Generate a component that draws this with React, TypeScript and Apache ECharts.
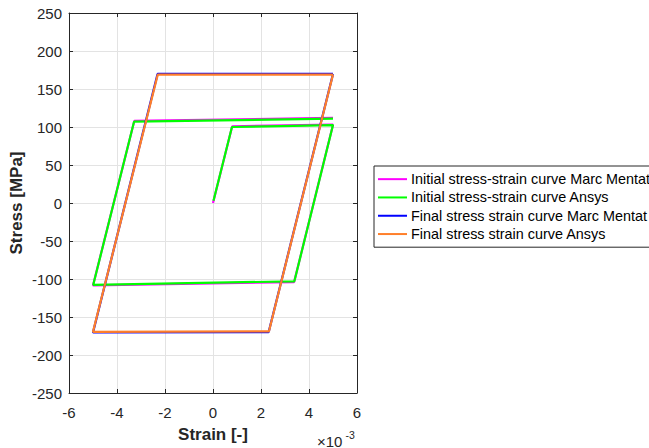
import React, { useEffect, useRef } from "react";
import * as echarts from "echarts";

// strain values are in units of 1e-3 (axis shows "×10^-3")
const initialMarcStrain = [0, 0.8, 5.0, 3.38, -5.0, -3.28, 5.0];
const initialMarcStress = [0, 101, 103, -104, -108.5, 108, 112];
const initialAnsysStrain = [0.02, 0.79, 5.0, 3.39, -4.99, -3.29, 5.0];
const initialAnsysStress = [3, 100, 102.5, -103, -107.7, 107, 111];
const finalMarcStrain = [5.0, 2.32, -5.0, -2.31, 5.0];
const finalMarcStress = [169.8, -169.8, -170.3, 169.8, 169.8];
const finalAnsysStrain = [5.0, 2.33, -5.0, -2.3, 5.0];
const finalAnsysStress = [169, -169, -169.5, 169, 169];

const seriesNames = [
  "Initial stress-strain curve Marc Mentat",
  "Initial stress-strain curve Ansys",
  "Final stress strain curve Marc Mentat",
  "Final stress strain curve Ansys",
];
const seriesColors = ["#ff00ff", "#00ff00", "#0000ff", "#ff7f2a"];

const xTicks = { min: -6, max: 6, interval: 2 };
const yTicks = { min: -250, max: 250, interval: 50 };

const FONT = "'Liberation Sans', Arial, Helvetica, sans-serif";
const AXIS_COLOR = "#262626";

function zip(xs: number[], ys: number[]) {
  return xs.map((x, i) => [x, ys[i]]);
}

export default function App() {
  const ref = useRef<HTMLDivElement>(null);
  useEffect(() => {
    if (!ref.current) return;
    const chart = echarts.init(ref.current, undefined, { renderer: "svg" });
    const data = [
      zip(initialMarcStrain, initialMarcStress),
      zip(initialAnsysStrain, initialAnsysStress),
      zip(finalMarcStrain, finalMarcStress),
      zip(finalAnsysStrain, finalAnsysStress),
    ];
    const boxAxisCommon = {
      axisLine: { show: true, onZero: false, lineStyle: { color: AXIS_COLOR, width: 1 } },
      axisTick: { show: true, inside: true, length: 4, lineStyle: { color: AXIS_COLOR } },
    };
    chart.setOption({
      animation: false,
      textStyle: { fontFamily: FONT },
      grid: { left: 69, top: 13, width: 288, height: 384, containLabel: false },
      legend: {
        orient: "vertical",
        left: 374,
        top: 166,
        padding: [4, 5, 4, 4],
        itemGap: 0,
        itemWidth: 29,
        itemHeight: 2,
        icon: "rect",
        borderColor: "#262626",
        borderWidth: 1,
        backgroundColor: "#ffffff",
        textStyle: { fontFamily: FONT, fontSize: 14.4, color: "#000", lineHeight: 18.3, padding: [0, 0, 0, -1] },
        data: seriesNames,
      },
      xAxis: [
        {
          type: "value",
          min: xTicks.min,
          max: xTicks.max,
          interval: xTicks.interval,
          position: "bottom",
          ...boxAxisCommon,
          axisLabel: { color: AXIS_COLOR, fontSize: 15, fontFamily: FONT, margin: 12 },
          splitLine: { show: true, lineStyle: { color: "#e3e3e3", width: 1 } },
          name: "Strain [-]",
          nameLocation: "middle",
          nameGap: 33,
          nameTextStyle: { fontWeight: "bold", fontSize: 17, color: AXIS_COLOR, fontFamily: FONT },
        },
        {
          type: "value",
          min: xTicks.min,
          max: xTicks.max,
          interval: xTicks.interval,
          position: "top",
          ...boxAxisCommon,
          axisLabel: { show: false },
          splitLine: { show: false },
        },
      ],
      yAxis: [
        {
          type: "value",
          min: yTicks.min,
          max: yTicks.max,
          interval: yTicks.interval,
          position: "left",
          ...boxAxisCommon,
          axisLabel: { color: AXIS_COLOR, fontSize: 15, fontFamily: FONT, margin: 7 },
          splitLine: { show: true, lineStyle: { color: "#e3e3e3", width: 1 } },
          name: "Stress [MPa]",
          nameLocation: "middle",
          nameGap: 44,
          nameTextStyle: { fontWeight: "bold", fontSize: 17, color: AXIS_COLOR, fontFamily: FONT },
        },
        {
          type: "value",
          min: yTicks.min,
          max: yTicks.max,
          interval: yTicks.interval,
          position: "right",
          ...boxAxisCommon,
          axisLabel: { show: false },
          splitLine: { show: false },
        },
      ],
      graphic: [
        {
          type: "text",
          x: 317,
          y: 441,
          style: {
            text: "×10",
            fontSize: 15,
            fontFamily: FONT,
            fill: AXIS_COLOR,
            verticalAlign: "middle",
            align: "left",
          },
        },
        {
          type: "text",
          x: 345.5,
          y: 435,
          style: {
            text: "-3",
            fontSize: 10.5,
            fontFamily: FONT,
            fill: AXIS_COLOR,
            verticalAlign: "middle",
            align: "left",
          },
        },
      ],
      series: data.map((d, i) => ({
        name: seriesNames[i],
        type: "line",
        data: d,
        showSymbol: false,
        symbol: "none",
        color: seriesColors[i],
        lineStyle: { color: seriesColors[i], width: 2.2 },
        xAxisIndex: 0,
        yAxisIndex: 0,
        z: 2 + i,
      })),
    });
    return () => chart.dispose();
  }, []);
  return (
    <div
      ref={ref}
      style={{ position: "absolute", left: 0, top: 0, width: 649, height: 448 }}
    />
  );
}
